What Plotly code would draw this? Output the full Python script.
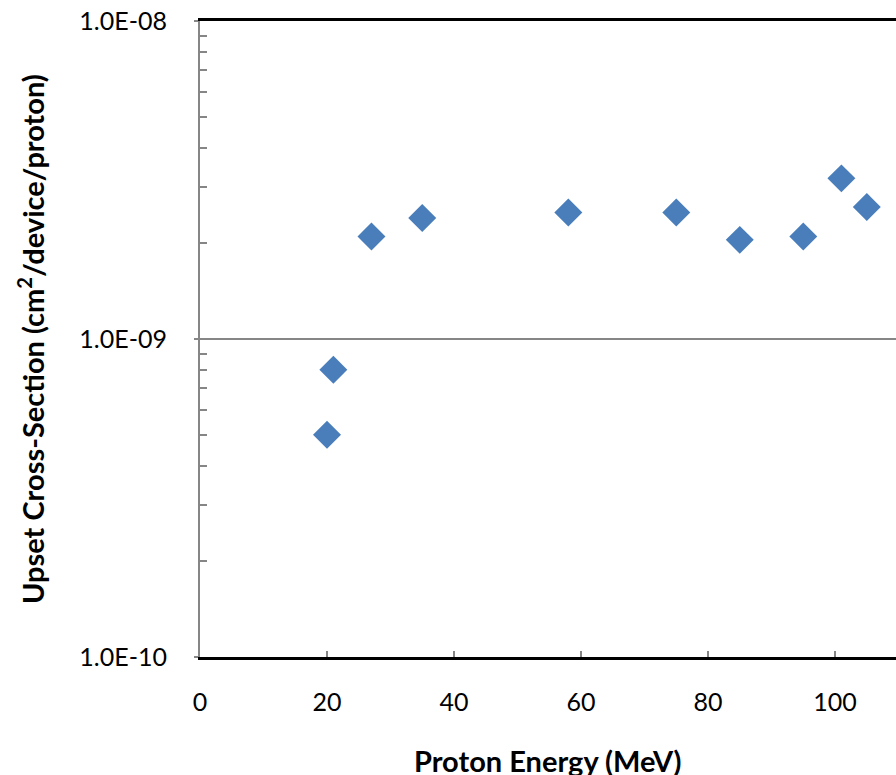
import plotly.graph_objects as go

# Data
energy_mev = [20, 21, 27, 35, 58, 75, 85, 95, 101, 105]
cross_section = [5.0e-10, 8.0e-10, 2.1e-9, 2.4e-9, 2.5e-9, 2.5e-9, 2.05e-9, 2.1e-9, 3.2e-9, 2.6e-9]

x_ticks = [0, 20, 40, 60, 80, 100, 120]
y_ticks = [1e-10, 1e-9, 1e-8]
y_tick_labels = ["1.0E-10", "1.0E-09", "1.0E-08"]
y_minor = [m * 10.0 ** e for e in (-10, -9) for m in range(2, 10)]

FONT = "Lato, Open Sans, sans-serif"

fig = go.Figure()
fig.add_trace(go.Scatter(
    x=energy_mev, y=cross_section, mode="markers",
    marker=dict(symbol="diamond", size=21.5, color="#4A7EBB", line=dict(width=0)),
    showlegend=False, cliponaxis=False,
))

fig.update_layout(
    width=896, height=775,
    margin=dict(l=200, r=0, t=21, b=118),
    paper_bgcolor="white", plot_bgcolor="white",
    font=dict(family=FONT, color="black", size=25),
    xaxis=dict(
        range=[0, 109.6], tickvals=x_ticks, ticks="inside", ticklen=6,
        tickcolor="#868686", tickwidth=1.5,
        showline=True, linecolor="black", linewidth=2.5, mirror=True,
        showgrid=False, zeroline=False,
        tickfont=dict(size=25, family=FONT), ticklabelstandoff=21,
    ),
    yaxis=dict(
        type="log", range=[-10, -8], tickvals=y_ticks, ticktext=y_tick_labels,
        ticks="outside", ticklen=4, tickcolor="#868686", tickwidth=1.5,
        showline=True, linecolor="#868686", linewidth=2,
        showgrid=True, gridcolor="#868686", gridwidth=1.5, zeroline=False,
        tickfont=dict(size=25, family=FONT), ticklabelstandoff=22,
        minor=dict(tickvals=y_minor, ticks="inside", ticklen=7,
                   tickcolor="#868686", tickwidth=1.5, showgrid=False),
    ),
    annotations=[
        dict(text="Upset Cross-Section (cm<sup>2</sup>/device/proton)",
             xref="paper", yref="paper", x=0, y=0.5, xshift=-169,
             xanchor="center", yanchor="middle", textangle=-90, showarrow=False,
             font=dict(size=29, family=FONT, color="black", weight="bold")),
        dict(text="Proton Energy (MeV)",
             xref="paper", yref="paper", x=0.5, y=0, yshift=-103,
             xanchor="center", yanchor="middle", showarrow=False,
             font=dict(size=29, family=FONT, color="black", weight="bold")),
    ],
)

fig.write_html("out.html", config={"displayModeBar": False},
               post_script="document.body.style.margin='0';")
